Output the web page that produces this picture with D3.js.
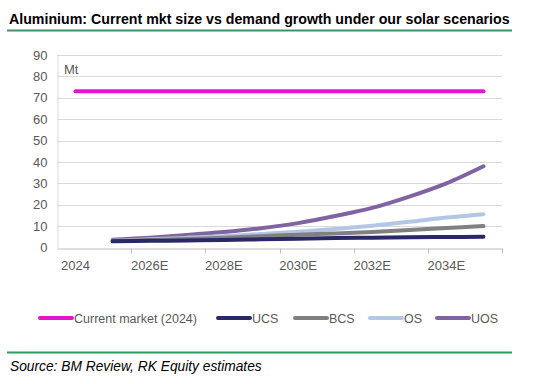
<!DOCTYPE html>
<html><head><meta charset="utf-8">
<script src="https://cdn.jsdelivr.net/npm/d3@7"></script>
<style>body{margin:0;background:#fff}svg{display:block}</style>
</head><body>
<svg id="c" width="536" height="384"></svg>
<script>
const categories = ["2024","2025E","2026E","2027E","2028E","2029E","2030E","2031E","2032E","2033E","2034E","2035E"];
const tickLabels = ["2024","2026E","2028E","2030E","2032E","2034E"];
const yTicks = [0,10,20,30,40,50,60,70,80,90];
const currentMarket = [73,73,73,73,73,73,73,73,73,73,73,73];
const ucs = [null,2.9,3.1,3.3,3.5,3.8,4.1,4.4,4.6,4.8,4.9,5.0];
const bcs = [null,3.0,3.5,4.0,4.6,5.3,6.0,6.6,7.3,8.2,9.1,10.0];
const os  = [null,3.2,3.8,4.5,5.3,6.3,7.4,8.7,10.2,12.0,14.0,15.6];
const uos = [null,3.6,4.6,5.8,7.2,9.0,11.4,14.7,18.5,23.8,30.0,38.0];
const seriesNames = ["Current market (2024)","UCS","BCS","OS","UOS"];
const seriesColors = ["#E513D2","#2A2866","#808080","#B4C6E6","#8064A2"];
const seriesData = [currentMarket, ucs, bcs, os, uos];

(function(){
const svg = d3.select("#c");
const pL = 57, pR = 502, pT = 55, pB = 247.5;
const FF = "Liberation Sans, Arial, sans-serif";

const title = svg.append("text").attr("x",9).attr("y",23.5).attr("font-family",FF)
  .attr("font-weight","bold").attr("font-size",14.5).attr("fill","#000")
  .text("Aluminium: Current mkt size vs demand growth under our solar scenarios");
const tw = title.node().getComputedTextLength();
if (tw > 501) title.attr("font-size", 14.5*501/tw);
svg.append("line").attr("x1",7).attr("x2",512).attr("y1",30.5).attr("y2",30.5)
  .attr("stroke","#3A9468").attr("stroke-width",2);

const x = d3.scaleBand().domain(categories).range([pL,pR]).padding(0);
const y = d3.scaleLinear().domain([0,90]).range([pB,pT]);

svg.append("g").selectAll("line").data(yTicks.filter(d=>d>0)).join("line")
  .attr("x1",pL).attr("x2",pR).attr("y1",d=>Math.round(y(d))+0.5).attr("y2",d=>Math.round(y(d))+0.5)
  .attr("stroke","#D9D9D9").attr("stroke-width",1);

const yAxis = d3.axisLeft(y).tickValues(yTicks).tickSize(0).tickPadding(10);
const gy = svg.append("g").attr("transform",`translate(${pL+0.5},0)`).call(yAxis);
gy.select(".domain").attr("stroke","#D9D9D9");
gy.selectAll("text").attr("font-family",FF).attr("font-size",13).attr("fill","#595959");

const xAxis = d3.axisBottom(x).tickValues(categories.filter(c=>tickLabels.includes(c))).tickSize(0).tickPadding(12);
const gx = svg.append("g").attr("transform",`translate(0,${Math.round(pB)+0.5})`).call(xAxis);
gx.select(".domain").attr("stroke","#BFBFBF");
gx.selectAll("text").attr("font-family",FF).attr("font-size",13).attr("fill","#595959");
const bounds = d3.range(0, categories.length+1, 2).map(i => pL + i*x.bandwidth());
svg.append("g").selectAll("line").data(bounds.slice(1)).join("line")
  .attr("x1",d=>Math.round(d)+0.5).attr("x2",d=>Math.round(d)+0.5)
  .attr("y1",Math.round(pB)+0.5).attr("y2",Math.round(pB)+5.5)
  .attr("stroke","#BFBFBF");

svg.append("text").attr("x",64).attr("y",74).attr("font-family",FF)
  .attr("font-size",13).attr("fill","#595959").text("Mt");

const line = d3.line().defined(d=>d.v!=null).x(d=>x(d.c)+x.bandwidth()/2).y(d=>y(d.v)).curve(d3.curveCatmullRom.alpha(0));
[0,4,3,2,1].forEach(i => {
  const pts = categories.map((c,j)=>({c, v: seriesData[i][j]}));
  svg.append("path").attr("d",line(pts)).attr("fill","none")
    .attr("stroke",seriesColors[i]).attr("stroke-width",4)
    .attr("stroke-linecap","round").attr("stroke-linejoin","round");
});

const legendX = [40,218,295,370,437];
const ly = 318;
seriesNames.forEach((n,i) => {
  svg.append("line").attr("x1",legendX[i]).attr("x2",legendX[i]+32).attr("y1",ly).attr("y2",ly)
    .attr("stroke",seriesColors[i]).attr("stroke-width",4).attr("stroke-linecap","round");
  svg.append("text").attr("x",legendX[i]+34).attr("y",ly+4.5).attr("font-family",FF)
    .attr("font-size",12.5).attr("fill","#595959").text(n);
});

svg.append("line").attr("x1",7).attr("x2",512).attr("y1",352.5).attr("y2",352.5)
  .attr("stroke","#2E9A5E").attr("stroke-width",2);
const src = svg.append("text").attr("x",10).attr("y",371).attr("font-family",FF)
  .attr("font-style","italic").attr("font-size",14).attr("fill","#000")
  .text("Source: BM Review, RK Equity estimates");
const sw = src.node().getComputedTextLength();
if (sw > 252) src.attr("font-size", 14*252/sw);
})();
</script>
</body></html>
